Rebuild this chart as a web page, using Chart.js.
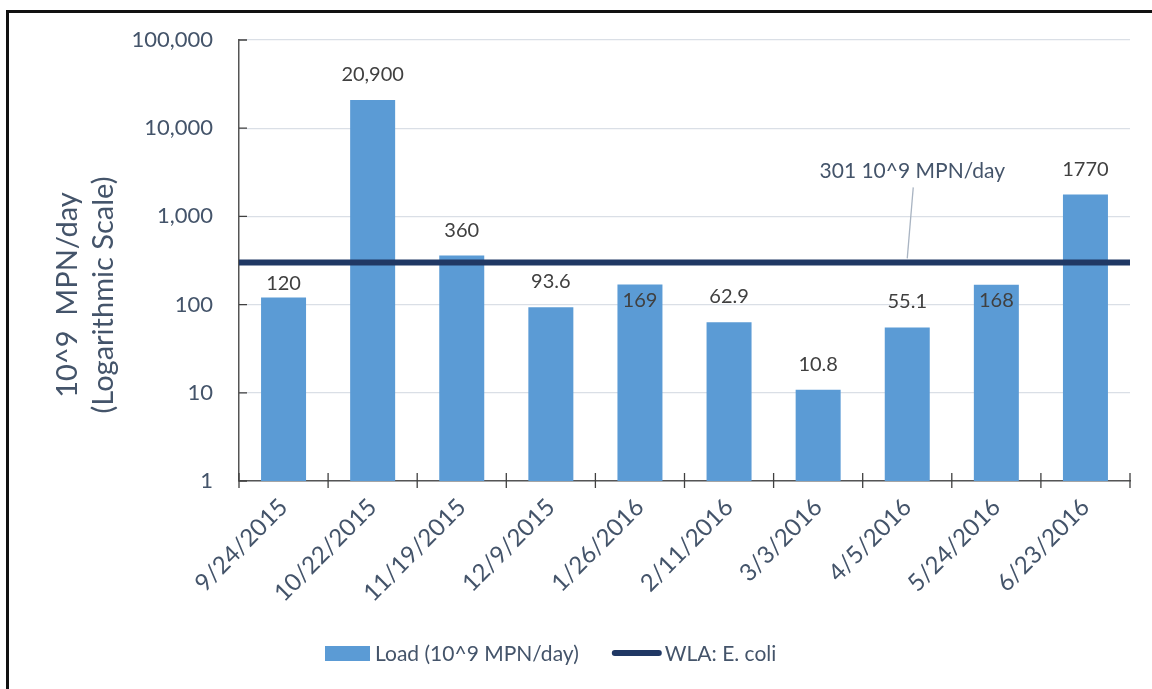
<!DOCTYPE html>
<html>
<head>
<meta charset="utf-8">
<script src="https://cdn.jsdelivr.net/npm/chart.js@4.4.1/dist/chart.umd.min.js"></script>
<style>
  body { margin: 0; background: #fff; }
  #wrap { position: relative; width: 1152px; height: 689px; overflow: hidden; }
  #frame { position: absolute; left: 6px; top: 10px; width: 1200px; height: 800px;
           border-left: 3px solid #111; border-top: 3px solid #111; }
  #chart { position: absolute; left: 0; top: 0; }
</style>
</head>
<body>
<div id="wrap">
  <div id="frame"></div>
  <canvas id="chart" width="1152" height="689"></canvas>
</div>
<script>
// sampling dates and E. coli loads (10^9 MPN/day)
const sampleDates = ['9/24/2015', '10/22/2015', '11/19/2015', '12/9/2015', '1/26/2016',
                     '2/11/2016', '3/3/2016', '4/5/2016', '5/24/2016', '6/23/2016'];
const loadValues = [120, 20900, 360, 93.6, 169, 62.9, 10.8, 55.1, 168, 1770];
const loadLabels = ['120', '20,900', '360', '93.6', '169', '62.9', '10.8', '55.1', '168', '1770'];
const wlaValue = 301;
const wlaLabelIndex = 7;

const yTicks = [1, 10, 100, 1000, 10000, 100000];
const yTickLabels = ['1', '10', '100', '1,000', '10,000', '100,000'];

const TEXT = '#44546A';
const FONT = 'Lato, "Open Sans", sans-serif';

// tick marks, value labels, WLA callout, axis title and legend
const extras = {
    id: 'extras',
    afterDraw(chart) {
        const { ctx, chartArea: area, scales: { x, y } } = chart;
        ctx.save();

        // inside ticks on the value axis, crossing ticks between categories
        ctx.strokeStyle = '#404040';
        ctx.lineWidth = 1.3;
        ctx.beginPath();
        yTicks.forEach(v => {
            const py = y.getPixelForValue(v);
            ctx.moveTo(area.left, py);
            ctx.lineTo(area.left + 8, py);
        });
        const half = (x.getPixelForValue(1) - x.getPixelForValue(0)) / 2;
        for (let i = 0; i <= sampleDates.length; i++) {
            const px = i < sampleDates.length ? x.getPixelForValue(i) - half
                                              : x.getPixelForValue(i - 1) + half;
            ctx.moveTo(px, area.bottom - 8);
            ctx.lineTo(px, area.bottom + 7);
        }
        ctx.stroke();

        // value labels; nudged away from the WLA line
        const lineY = y.getPixelForValue(wlaValue);
        ctx.font = '20px ' + FONT;
        ctx.fillStyle = '#404040';
        ctx.textAlign = 'center';
        ctx.textBaseline = 'alphabetic';
        chart.getDatasetMeta(1).data.forEach((bar, i) => {
            let c = bar.y - 26;
            if (Math.abs(c - lineY) < 18) c = lineY + 21;
            if (c > bar.y - 12) c = bar.y + 15;
            ctx.fillText(loadLabels[i], bar.x, c + 7);
        });

        // WLA callout
        const cx = x.getPixelForValue(wlaLabelIndex);
        ctx.strokeStyle = '#A9B4C2';
        ctx.lineWidth = 1.3;
        ctx.beginPath();
        ctx.moveTo(cx + 6, lineY - 75);
        ctx.lineTo(cx, lineY - 4);
        ctx.stroke();
        ctx.font = '21px ' + FONT;
        ctx.fillStyle = TEXT;
        ctx.fillText(wlaValue + ' 10^9 MPN/day', cx + 5, lineY - 84);

        // axis title, two rotated lines
        ctx.font = '29px ' + FONT;
        [['10^9  MPN/day', 77], ['(Logarithmic Scale)', 113]].forEach(([t, bx]) => {
            ctx.save();
            ctx.translate(bx, 295);
            ctx.rotate(-Math.PI / 2);
            ctx.fillText(t, 0, 0);
            ctx.restore();
        });

        // legend
        const ds = chart.data.datasets;
        ctx.font = '21px ' + FONT;
        ctx.textAlign = 'left';
        let lx = 325;
        ctx.fillStyle = ds[1].backgroundColor;
        ctx.fillRect(lx, 646, 45, 15);
        ctx.fillStyle = TEXT;
        ctx.fillText(ds[1].label, lx + 50, 661);
        lx += 50 + ctx.measureText(ds[1].label).width + 33;
        ctx.strokeStyle = ds[0].borderColor;
        ctx.lineWidth = 6;
        ctx.lineCap = 'round';
        ctx.beginPath();
        ctx.moveTo(lx + 3, 653);
        ctx.lineTo(lx + 47, 653);
        ctx.stroke();
        ctx.fillText(ds[0].label, lx + 53, 661);

        ctx.restore();
    }
};

new Chart(document.getElementById('chart'), {
    data: {
        labels: sampleDates,
        datasets: [
            {
                type: 'line',
                label: 'WLA: E. coli',
                xAxisID: 'x2',
                data: [{ x: 0, y: wlaValue }, { x: 1, y: wlaValue }],
                borderColor: '#203864',
                borderWidth: 6,
                pointRadius: 0,
                order: 0
            },
            {
                type: 'bar',
                label: 'Load (10^9 MPN/day)',
                data: loadValues,
                backgroundColor: '#5B9BD5',
                grouped: false,
                barPercentage: 0.505,
                categoryPercentage: 1,
                order: 1
            }
        ]
    },
    options: {
        responsive: false,
        animation: false,
        devicePixelRatio: 1,
        layout: { padding: { top: 40, right: 22, left: 0, bottom: 0 } },
        plugins: { legend: { display: false }, tooltip: { enabled: false } },
        scales: {
            x: {
                type: 'category',
                grid: { display: false, drawTicks: false },
                border: { display: true, color: '#555', width: 1.5 },
                ticks: {
                    color: TEXT, font: { family: FONT, size: 24 },
                    minRotation: 45, maxRotation: 45, autoSkip: false, padding: 12
                },
                afterFit(scale) { scale.height = 208; }
            },
            x2: { type: 'linear', min: 0, max: 1, display: false },
            y: {
                type: 'logarithmic',
                min: 1,
                max: 100000,
                grid: { color: '#DADFE6', lineWidth: 1.3, drawTicks: false },
                border: { display: true, color: '#555', width: 1.5 },
                ticks: {
                    color: TEXT, font: { family: FONT, size: 22 }, padding: 26,
                    callback: (v, i) => yTickLabels[i]
                },
                afterBuildTicks(scale) { scale.ticks = yTicks.map(v => ({ value: v })); },
                afterFit(scale) { scale.width = 239; }
            }
        }
    },
    plugins: [extras]
});
</script>
</body>
</html>
